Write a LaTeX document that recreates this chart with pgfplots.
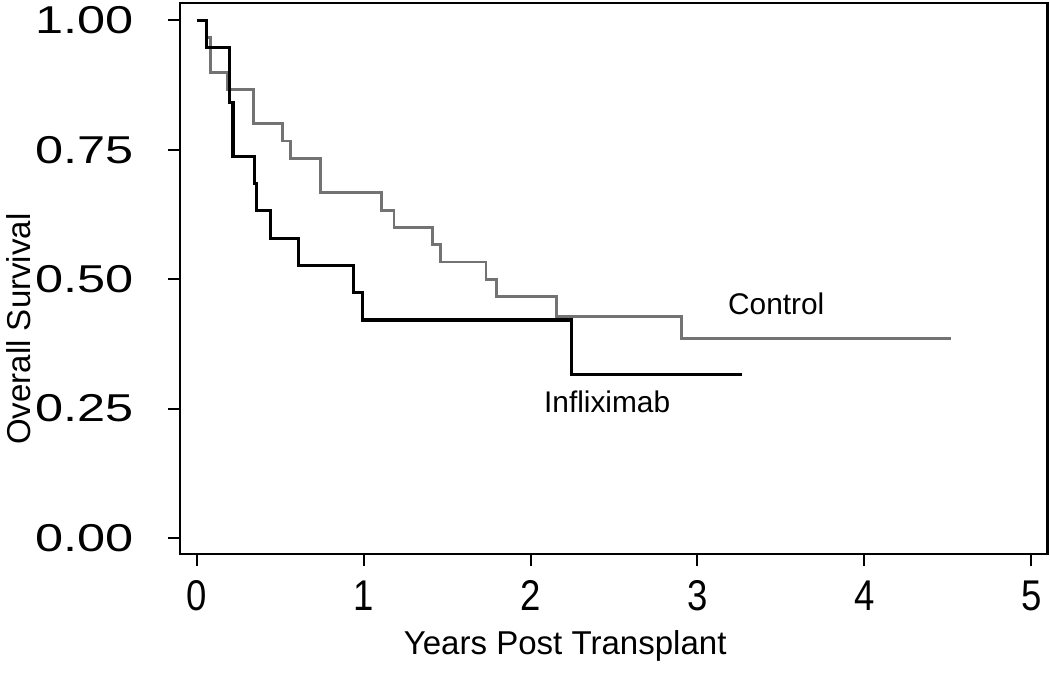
\documentclass[border=0pt]{standalone}
\usepackage{pgfplots}
\pgfplotsset{compat=1.18}
\usepackage{fontspec}
\setmainfont{Liberation Sans}
\usepackage{graphicx}
\newcommand\yt[1]{\scalebox{1.3}[1]{#1}}
\newcommand\xt[1]{\scalebox{0.85}[1]{#1}}
\definecolor{ctrl}{gray}{0.45}
\begin{document}
\begin{tikzpicture}
\begin{axis}[
  name=ax,
  scale only axis,
  width=435.65pt, height=276.65pt,
  xmin=-0.0996, xmax=5.096,
  ymin=-0.0308, ymax=1.0333,
  axis line style={line width=1.35pt},
  tick align=outside,
  xtick pos=left, ytick pos=left,
  major tick length=6pt,
  tick style={line width=1pt, black},
  xtick={0,1,2,3,4,5},
  xticklabels={\xt{0},\xt{1},\xt{2},\xt{3},\xt{4},\xt{5}},
  ytick={0,0.25,0.5,0.75,1},
  yticklabels={\yt{0.00},\yt{0.25},\yt{0.50},\yt{0.75},\yt{1.00}},
  xticklabel style={font=\fontsize{21.6pt}{24pt}\selectfont, yshift=-4pt},
  yticklabel style={font=\fontsize{19.5pt}{22pt}\selectfont, xshift=-14pt},
  clip=false,
]
\addplot[const plot, color=ctrl, line width=1.4pt] coordinates {
(0,1) (0.06,0.967) (0.083,0.9) (0.183,0.867) (0.342,0.8) (0.516,0.767)
(0.561,0.733) (0.743,0.667) (1.105,0.633) (1.182,0.6) (1.411,0.567)
(1.46,0.533) (1.733,0.5) (1.798,0.467) (2.156,0.428) (2.906,0.386) (4.516,0.386)};
\addplot[const plot, color=black, line width=1.6pt] coordinates {
(0,1) (0.06,0.947) (0.197,0.842) (0.217,0.737) (0.346,0.684) (0.358,0.632)
(0.441,0.579) (0.61,0.526) (0.938,0.474) (0.993,0.421) (2.245,0.316) (3.268,0.316)};
\node[font=\fontsize{15pt}{18pt}\selectfont] at (axis cs:3.472,0.452) {Control};
\node[font=\fontsize{15pt}{18pt}\selectfont] at (axis cs:2.459,0.263) {Infliximab};
\node[font=\fontsize{16.6pt}{19pt}\selectfont] at (rel axis cs:0.444,-0.168) {Years Post Transplant};
\node[font=\fontsize{16.6pt}{19pt}\selectfont, rotate=90] at (rel axis cs:-0.186,0.408) {Overall Survival};
\end{axis}
\path (ax.south west) ++(-88pt,-60pt) coordinate (bl);
\path (ax.north east) ++(1.35pt,1.35pt) coordinate (tr);
\useasboundingbox (bl) rectangle (tr);
\end{tikzpicture}
\end{document}
